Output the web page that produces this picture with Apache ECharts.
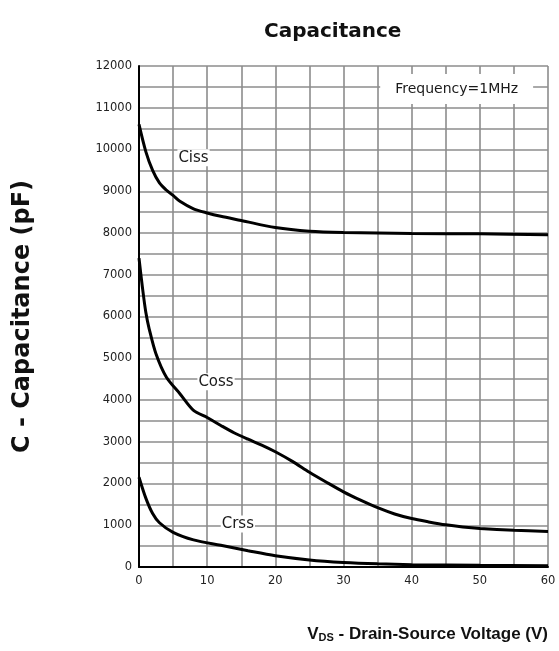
<!DOCTYPE html>
<html>
<head>
<meta charset="utf-8">
<script src="https://cdn.jsdelivr.net/npm/echarts@6/dist/echarts.min.js"></script>
<style>
  html, body { margin: 0; padding: 0; background: #fff; }
  #main { width: 559px; height: 651px; }
</style>
</head>
<body>
<div id="main"></div>
<script>
// VDS (V) vs capacitance (pF)
var cissV = [0, 1, 2, 3, 4, 5, 6, 8, 10, 12, 15, 20, 25, 30, 40, 50, 60];
var cissC = [10600, 9950, 9500, 9200, 9030, 8900, 8760, 8580, 8480, 8400, 8300, 8130, 8040, 8010, 7990, 7980, 7960];

var cossV = [0, 0.5, 1, 1.5, 2.5, 4, 6, 8, 10, 12, 14, 16, 18, 20, 22.5, 25, 27.5, 30, 32.5, 35, 37.5, 40, 42.5, 45, 47.5, 50, 55, 60];
var cossC = [7400, 6700, 6100, 5700, 5100, 4550, 4150, 3750, 3580, 3390, 3210, 3060, 2920, 2760, 2530, 2270, 2030, 1800, 1600, 1420, 1270, 1160, 1080, 1010, 960, 925, 880, 850];

var crssV = [0, 1, 2, 3, 5, 8, 12, 16, 20, 25, 30, 35, 40, 50, 60];
var crssC = [2150, 1650, 1280, 1060, 830, 650, 520, 390, 270, 170, 110, 75, 55, 40, 30];

var xTicks = [0, 10, 20, 30, 40, 50, 60];
var yTicks = [0, 1000, 2000, 3000, 4000, 5000, 6000, 7000, 8000, 9000, 10000, 11000, 12000];

function pairs(xs, ys) {
  return xs.map(function (x, i) { return [x, ys[i]]; });
}

var chart = echarts.init(document.getElementById('main'));

var noteLabel = {
  show: true,
  position: 'inside',
  color: '#1a1a1a',
  fontFamily: 'DejaVu Sans',
  fontSize: 15,
  backgroundColor: '#fff',
  padding: [1, 1]
};

function curve(name, data, note) {
  return {
    name: name,
    type: 'line',
    data: data,
    smooth: 0.3,
    symbol: 'none',
    lineStyle: { color: '#000', width: 3 },
    markPoint: {
      symbol: 'rect',
      symbolSize: 0,
      silent: true,
      label: noteLabel,
      data: note
    },
    z: 5
  };
}

var option = {
  backgroundColor: '#fff',
  animation: false,
  title: {
    text: 'Capacitance',
    left: 259,
    top: 17,
    textStyle: { fontFamily: 'DejaVu Sans', fontWeight: 'bold', fontSize: 20, color: '#111' }
  },
  grid: { left: 139, right: 11, top: 66, bottom: 84 },
  xAxis: {
    type: 'value',
    min: 0, max: 60, interval: 5,
    name: '{v|V}{s|DS}{v| - Drain-Source Voltage (V)}',
    nameLocation: 'end',
    nameGap: 0,
    nameTextStyle: {
      align: 'right',
      verticalAlign: 'top',
      padding: [59, 0, 0, 0],
      rich: {
        v: { fontFamily: 'Liberation Sans', fontWeight: 'bold', fontSize: 17, color: '#111' },
        s: { fontFamily: 'Liberation Sans', fontWeight: 'bold', fontSize: 11, color: '#111', padding: [6, 0, 0, 0] }
      }
    },
    axisLine: { show: true, lineStyle: { color: '#000', width: 2 } },
    axisTick: { show: false },
    axisLabel: {
      margin: 8,
      fontFamily: 'DejaVu Sans', fontSize: 11.5, color: '#222',
      formatter: function (v) { return xTicks.indexOf(v) >= 0 ? String(v) : ''; }
    },
    splitLine: { show: true, lineStyle: { color: '#8c8c8c', width: 1.6 } }
  },
  yAxis: {
    type: 'value',
    min: 0, max: 12000, interval: 500,
    name: 'C - Capacitance (pF)',
    nameLocation: 'middle',
    nameRotate: 90,
    nameGap: 104,
    nameTextStyle: { fontFamily: 'DejaVu Sans', fontWeight: 'bold', fontSize: 24, color: '#111' },
    axisLine: { show: true, lineStyle: { color: '#000', width: 2 } },
    axisTick: { show: false },
    axisLabel: {
      margin: 7,
      fontFamily: 'DejaVu Sans', fontSize: 11.5, color: '#222',
      formatter: function (v) { return yTicks.indexOf(v) >= 0 ? String(v) : ''; }
    },
    splitLine: { show: true, lineStyle: { color: '#8c8c8c', width: 1.6 } }
  },
  series: [
    curve('Ciss', pairs(cissV, cissC), [
      { coord: [8.0, 9800], label: { formatter: 'Ciss' } },
      { coord: [46.6, 11450], label: { formatter: 'Frequency=1MHz', fontSize: 14, padding: [8, 15] } }
    ]),
    curve('Coss', pairs(cossV, cossC), [
      { coord: [11.3, 4440], label: { formatter: 'Coss' } }
    ]),
    curve('Crss', pairs(crssV, crssC), [
      { coord: [14.5, 1030], label: { formatter: 'Crss' } }
    ])
  ]
};

chart.setOption(option);
</script>
</body>
</html>
